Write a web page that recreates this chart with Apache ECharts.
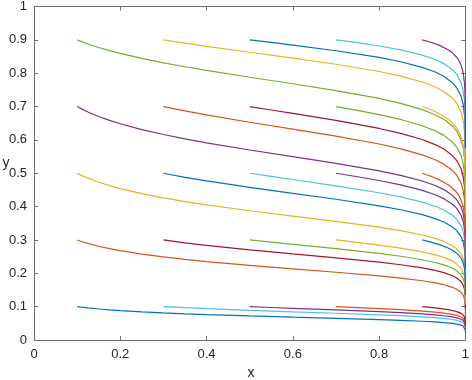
<!DOCTYPE html>
<html><head><meta charset="utf-8">
<script src="https://cdn.jsdelivr.net/npm/echarts@6/dist/echarts.min.js"></script>
<style>html,body{margin:0;padding:0;background:#fff}#c{width:472px;height:380px}</style>
</head><body><div id="c"></div>
<script>
// Colour order of the curves (MATLAB default order)
const lineColors = ['#0072BD', '#D95319', '#EDB120', '#7E2F8E', '#77AC30', '#4DBEEE', '#A2142F'];
const xTicks = [0, 0.2, 0.4, 0.6, 0.8, 1];
const yTicks = [0, 0.1, 0.2, 0.3, 0.4, 0.5, 0.6, 0.7, 0.8, 0.9, 1];

// x positions of samples for each starting x
const xFrom01 = [0.1,0.11,0.125,0.15,0.175,0.2,0.25,0.3,0.35,0.4,0.5,0.6,0.7,0.8,0.85,0.9,0.93,0.95,0.97,0.98,0.99,0.995,0.998,0.999,0.9999,0.99999];
const xFrom03 = [0.3,0.35,0.4,0.5,0.6,0.7,0.8,0.85,0.9,0.93,0.95,0.97,0.98,0.99,0.995,0.998,0.999,0.9999,0.99999];
const xFrom05 = [0.5,0.55,0.6,0.7,0.8,0.85,0.9,0.93,0.95,0.97,0.98,0.99,0.995,0.998,0.999,0.9999,0.99999];
const xFrom07 = [0.7,0.75,0.8,0.85,0.9,0.93,0.95,0.97,0.98,0.99,0.995,0.998,0.999,0.9999,0.99999];
const xFrom09 = [0.9,0.92,0.94,0.96,0.97,0.98,0.985,0.99,0.995,0.998,0.999,0.9999,0.99999];

// curves starting at x = 0.1
const y01_01 = [0.1,0.0983,0.0961,0.0929,0.0903,0.0880,0.0843,0.0812,0.0786,0.0762,0.0722,0.0685,0.0650,0.0612,0.0590,0.0562,0.0541,0.0522,0.0496,0.0477,0.0446,0.0418,0.0383,0.0359,0.0289,0.0233];
const y01_03 = [0.3,0.2955,0.2896,0.2811,0.2740,0.2678,0.2575,0.2490,0.2417,0.2352,0.2237,0.2134,0.2032,0.1922,0.1857,0.1777,0.1713,0.1658,0.1580,0.1522,0.1430,0.1343,0.1237,0.1162,0.0944,0.0765];
const y01_05 = [0.5,0.4937,0.4852,0.4731,0.4628,0.4538,0.4387,0.4260,0.4150,0.4051,0.3876,0.3716,0.3557,0.3382,0.3278,0.3149,0.3046,0.2956,0.2828,0.2732,0.2577,0.2432,0.2251,0.2123,0.1742,0.1423];
const y01_07 = [0.7,0.6931,0.6838,0.6703,0.6587,0.6485,0.6310,0.6161,0.6030,0.5911,0.5697,0.5498,0.5298,0.5073,0.4938,0.4768,0.4631,0.4510,0.4337,0.4206,0.3991,0.3787,0.3531,0.3346,0.2785,0.2302];
const y01_09 = [0.9,0.8948,0.8877,0.8771,0.8677,0.8593,0.8443,0.8312,0.8193,0.8083,0.7879,0.7683,0.7478,0.7243,0.7097,0.6909,0.6756,0.6618,0.6416,0.6260,0.6001,0.5747,0.5420,0.5179,0.4418,0.3729];
// curves starting at x = 0.3
const y03_01 = [0.1,0.0968,0.0940,0.0890,0.0845,0.0802,0.0756,0.0728,0.0695,0.0669,0.0646,0.0614,0.0590,0.0552,0.0517,0.0475,0.0445,0.0359,0.0289];
const y03_03 = [0.3,0.2915,0.2839,0.2705,0.2583,0.2464,0.2333,0.2256,0.2161,0.2086,0.2020,0.1927,0.1858,0.1747,0.1643,0.1516,0.1425,0.1160,0.0942];
const y03_05 = [0.5,0.4879,0.4771,0.4576,0.4398,0.4220,0.4023,0.3905,0.3758,0.3641,0.3538,0.3390,0.3280,0.3101,0.2932,0.2721,0.2570,0.2119,0.1739];
const y03_07 = [0.7,0.6868,0.6748,0.6529,0.6323,0.6113,0.5877,0.5733,0.5551,0.5404,0.5273,0.5084,0.4940,0.4704,0.4478,0.4190,0.3981,0.3341,0.2781];
const y03_09 = [0.9,0.8900,0.8807,0.8629,0.8454,0.8269,0.8050,0.7913,0.7735,0.7587,0.7453,0.7254,0.7099,0.6838,0.6580,0.6241,0.5988,0.5172,0.4412];
// curves starting at x = 0.5
const y05_01 = [0.1,0.0975,0.0950,0.0902,0.0850,0.0819,0.0782,0.0752,0.0727,0.0691,0.0664,0.0622,0.0583,0.0535,0.0501,0.0404,0.0326];
const y05_03 = [0.3,0.2933,0.2868,0.2738,0.2595,0.2511,0.2407,0.2324,0.2252,0.2150,0.2074,0.1951,0.1837,0.1696,0.1596,0.1302,0.1058];
const y05_05 = [0.5,0.4905,0.4812,0.4624,0.4416,0.4291,0.4134,0.4009,0.3898,0.3741,0.3622,0.3429,0.3246,0.3017,0.2854,0.2361,0.1943];
const y05_07 = [0.7,0.6897,0.6794,0.6583,0.6343,0.6197,0.6011,0.5860,0.5725,0.5529,0.5380,0.5134,0.4896,0.4593,0.4372,0.3687,0.3083];
const y05_09 = [0.9,0.8922,0.8843,0.8674,0.8472,0.8344,0.8176,0.8035,0.7906,0.7714,0.7563,0.7307,0.7051,0.6712,0.6457,0.5621,0.4828];
// curves starting at x = 0.7
const y07_01 = [0.1,0.0972,0.0942,0.0909,0.0867,0.0835,0.0807,0.0767,0.0738,0.0691,0.0647,0.0594,0.0557,0.0450,0.0362];
const y07_03 = [0.3,0.2926,0.2847,0.2756,0.2643,0.2554,0.2476,0.2365,0.2282,0.2149,0.2025,0.1871,0.1762,0.1439,0.1172];
const y07_05 = [0.5,0.4896,0.4782,0.4651,0.4486,0.4355,0.4238,0.4071,0.3945,0.3740,0.3545,0.3301,0.3125,0.2594,0.2140];
const y07_07 = [0.7,0.6886,0.6760,0.6613,0.6425,0.6272,0.6135,0.5935,0.5782,0.5529,0.5283,0.4967,0.4736,0.4015,0.3370];
const y07_09 = [0.9,0.8914,0.8816,0.8699,0.8542,0.8410,0.8288,0.8105,0.7961,0.7713,0.7463,0.7128,0.6874,0.6029,0.5211];
// curves starting at x = 0.9
const y09_01 = [0.1,0.0976,0.0948,0.0910,0.0885,0.0851,0.0829,0.0798,0.0748,0.0687,0.0644,0.0520,0.0420];
const y09_03 = [0.3,0.2937,0.2861,0.2759,0.2691,0.2599,0.2536,0.2451,0.2311,0.2138,0.2016,0.1652,0.1348];
const y09_05 = [0.5,0.4911,0.4802,0.4656,0.4557,0.4422,0.4329,0.4201,0.3989,0.3723,0.3531,0.2945,0.2440];
const y09_07 = [0.7,0.6903,0.6783,0.6619,0.6506,0.6351,0.6242,0.6090,0.5836,0.5507,0.5264,0.4496,0.3799];
const y09_09 = [0.9,0.8927,0.8834,0.8704,0.8610,0.8478,0.8383,0.8248,0.8012,0.7692,0.7444,0.6601,0.5762];

const groups = [
  [xFrom01, [y01_01, y01_03, y01_05, y01_07, y01_09]],
  [xFrom03, [y03_01, y03_03, y03_05, y03_07, y03_09]],
  [xFrom05, [y05_01, y05_03, y05_05, y05_07, y05_09]],
  [xFrom07, [y07_01, y07_03, y07_05, y07_07, y07_09]],
  [xFrom09, [y09_01, y09_03, y09_05, y09_07, y09_09]]
];

const FONT = '"Liberation Sans", Arial, Helvetica, sans-serif';
const AX = '#6e6e6e';
const TXT = '#262626';

const series = [];
groups.forEach(([xs, ysList]) => {
  ysList.forEach(ys => {
    series.push({
      type: 'line',
      data: xs.map((x, i) => [x, ys[i]]),
      showSymbol: false,
      symbol: 'none',
      xAxisIndex: 0, yAxisIndex: 0,
      lineStyle: { width: 1.2 },
      silent: true,
      animation: false
    });
  });
});

function axisBase(extra) {
  return Object.assign({
    type: 'value', min: 0, max: 1,
    axisLine: { show: true, onZero: false, lineStyle: { color: AX, width: 1 } },
    axisTick: { show: true, inside: true, length: 4, lineStyle: { color: AX, width: 1 } },
    splitLine: { show: false }
  }, extra);
}

const chart = echarts.init(document.getElementById('c'), null, { renderer: 'canvas' });
chart.setOption({
  animation: false,
  backgroundColor: '#ffffff',
  color: lineColors,
  grid: { left: 34, right: 4, top: 5, bottom: 40, containLabel: false },
  xAxis: [
    axisBase({ position: 'bottom', interval: 0.2,
      axisLabel: { color: TXT, fontSize: 13, fontFamily: FONT, margin: 8,
        formatter: v => { const t = xTicks.find(k => Math.abs(k - v) < 1e-9); return t === undefined ? '' : String(t); } } }),
    axisBase({ position: 'top', interval: 0.2, axisLabel: { show: false } })
  ],
  yAxis: [
    axisBase({ position: 'left', interval: 0.1,
      axisLabel: { color: TXT, fontSize: 13, fontFamily: FONT, margin: 7,
        formatter: v => { const t = yTicks.find(k => Math.abs(k - v) < 1e-9); return t === undefined ? '' : String(t); } } }),
    axisBase({ position: 'right', interval: 0.1, axisLabel: { show: false } })
  ],
  graphic: [
    { type: 'text', x: 251, y: 373, silent: true,
      style: { text: 'x', fill: TXT, font: '14px ' + FONT, align: 'center', verticalAlign: 'middle', textAlign: 'center', textVerticalAlign: 'middle' } },
    { type: 'text', x: 6, y: 163, silent: true,
      style: { text: 'y', fill: TXT, font: '14px ' + FONT, align: 'center', verticalAlign: 'middle', textAlign: 'center', textVerticalAlign: 'middle' } }
  ],
  series: series
});
</script>
</body></html>
